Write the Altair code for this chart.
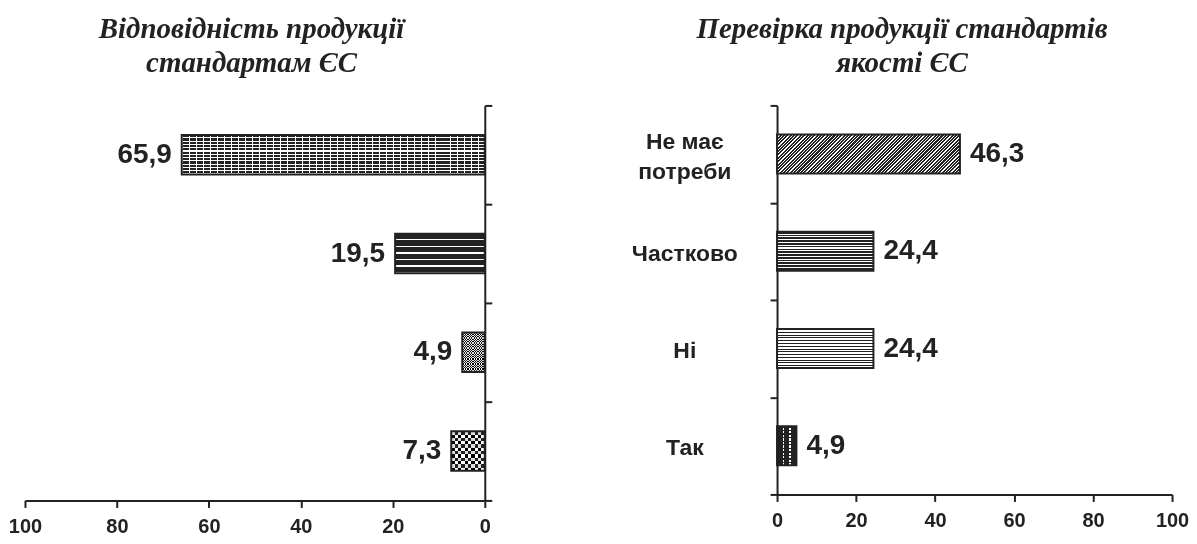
import altair as alt
import pandas as pd

# ---------------- data ----------------
left_keys = ["k1", "k2", "k3", "k4"]          # left panel has no category labels
left_values = [65.9, 19.5, 4.9, 7.3]
right_cats = ["Не має потреби", "Частково", "Ні", "Так"]
right_values = [46.3, 24.4, 24.4, 4.9]
x_ticks = [0, 20, 40, 60, 80, 100]
left_title = ["Відповідність продукції", "стандартам ЄС"]
right_title = ["Перевірка продукції стандартів", "якості ЄС"]


def fmt(v):
    return f"{v:.1f}".replace(".", ",")


left_df = pd.DataFrame({"cat": left_keys, "value": left_values,
                        "label": [fmt(v) for v in left_values]})
right_df = pd.DataFrame({"cat": right_cats, "value": right_values,
                         "label": [fmt(v) for v in right_values]})

# ---------------- style ----------------
INK = "#222222"
WHITE = "#ffffff"
CLEAR_W = "rgba(255,255,255,0)"
CLEAR_K = "rgba(0,0,0,0)"
LW, LH = 461, 396
RW, RH = 396, 390
BAND = 0.4
FONT = "Liberation Sans"


def stripes(n, on, off, frac, direction="h", x2=None, y2=None):
    stops = []
    for k in range(n):
        a, b, c = k / n, (k + frac) / n, (k + 1) / n
        stops += [{"offset": a, "color": on}, {"offset": b, "color": on},
                  {"offset": b, "color": off}, {"offset": c, "color": off}]
    if direction == "h":      # horizontal lines
        vec = (0, 0, 0, 1)
    elif direction == "v":    # vertical lines
        vec = (0, 0, 1, 0)
    else:
        vec = (0, 0, x2, y2)
    return {"gradient": "linear", "x1": vec[0], "y1": vec[1], "x2": vec[2], "y2": vec[3],
            "stops": stops}


def custom(stops_spec, direction="v"):
    stops = []
    for (a, b, col) in stops_spec:
        stops += [{"offset": a, "color": col}, {"offset": b, "color": col}]
    vec = (0, 0, 1, 0) if direction == "v" else (0, 0, 0, 1)
    return {"gradient": "linear", "x1": vec[0], "y1": vec[1], "x2": vec[2], "y2": vec[3],
            "stops": stops}


lbar_h = LH / 4 * BAND
rbar_h = RH / 4 * BAND
lpx = LW / 100.0
rpx = RW / 100.0

# left patterns (top -> bottom)
w1 = left_values[0] * lpx
w3 = left_values[2] * lpx
w4 = left_values[3] * lpx
left_base = [
    stripes(round(lbar_h / 3.3), INK, WHITE, 0.68, "h"),
    stripes(round(lbar_h / 6.6), INK, WHITE, 0.78, "h"),
    stripes(round(lbar_h / 2.4), INK, WHITE, 0.5, "h"),
    stripes(round(lbar_h / 6.6), INK, WHITE, 0.5, "h"),
]
left_over = [
    stripes(round(w1 / 7.0), WHITE, CLEAR_W, 0.14, "v"),
    None, None, None,
]
left_diff = [
    None, None,
    stripes(max(1, round(w3 / 2.4)), WHITE, CLEAR_W, 0.5, "v"),
    stripes(max(1, round(w4 / 6.6)), WHITE, CLEAR_W, 0.5, "v"),
]

# right patterns (top -> bottom)
rw1 = right_values[0] * rpx
ax = 1.2
by = ax * rbar_h / rw1
span = (ax * ax + by * by) * rw1 / ax
right_base = [
    stripes(round(span / 3.4), INK, WHITE, 0.62, "d", ax, by),
    stripes(round(rbar_h / 2.8), INK, WHITE, 0.6, "h"),
    stripes(round(rbar_h / 2.8), INK, WHITE, 0.35, "h"),
    custom([(0, 0.3, INK), (0.3, 0.37, WHITE), (0.37, 0.63, INK),
            (0.63, 0.7, WHITE), (0.7, 1, INK)], "v"),
]
right_over = [
    None, None, None,
    stripes(round(rbar_h / 3.5), INK, CLEAR_K, 0.4, "h"),
]
right_diff = [None, None, None, None]

axis_common = dict(domainColor=INK, domainWidth=2, tickColor=INK, tickWidth=2, tickSize=7,
                   labelFont=FONT, labelFontWeight="bold", labelColor=INK,
                   grid=False, title=None)

title_common = dict(font="Liberation Serif", fontStyle="italic", fontWeight="bold",
                    fontSize=29, lineHeight=34, color=INK, anchor="middle", frame="bounds")


def panel(df, keys, reverse, y_orient, y_labels, base, over, diff, text_align, text_dx,
          width, height, title, title_dx, title_offset):
    x_enc = alt.X("value:Q",
                  scale=alt.Scale(domain=[0, 100], reverse=reverse, nice=False),
                  axis=alt.Axis(values=x_ticks, orient="bottom", labelPadding=9,
                                labelFontSize=20, labelFlush=False, **axis_common))
    y_axis_kw = dict(orient=y_orient, tickBand="extent", **axis_common)
    if y_labels:
        y_axis_kw.update(labelAlign="center", labelBaseline="middle", labelPadding=86,
                         labelLineHeight=31, labelFontSize=23,
                         labelOffset={"condition": {"test": "datum.value == 'Не має потреби'",
                                                    "value": -13}, "value": 2},
                         labelExpr="datum.label == 'Не має потреби' ? ['Не має', 'потреби'] : datum.label")
    else:
        y_axis_kw.update(labels=False)
    y_enc = alt.Y("cat:N", sort=keys,
                  scale=alt.Scale(paddingInner=0, paddingOuter=0),
                  axis=alt.Axis(**y_axis_kw))

    layers = []
    for c, g in zip(keys, base):
        layers.append(alt.Chart(df).transform_filter(alt.datum.cat == c)
                      .mark_bar(fill=g, height={"band": BAND}, strokeWidth=0)
                      .encode(x=x_enc, y=y_enc))
    for c, g in zip(keys, over):
        if g is not None:
            layers.append(alt.Chart(df).transform_filter(alt.datum.cat == c)
                          .mark_bar(fill=g, height={"band": BAND}, strokeWidth=0)
                          .encode(x=x_enc, y=y_enc))
    for c, g in zip(keys, diff):
        if g is not None:
            layers.append(alt.Chart(df).transform_filter(alt.datum.cat == c)
                          .mark_bar(fill=g, height={"band": BAND}, strokeWidth=0,
                                    blend="difference")
                          .encode(x=x_enc, y=y_enc))
    layers.append(alt.Chart(df).mark_bar(fillOpacity=0, stroke=INK, strokeWidth=2,
                                         height={"band": BAND})
                  .encode(x=x_enc, y=y_enc))
    layers.append(alt.Chart(df).mark_text(align=text_align, dx=text_dx, baseline="middle",
                                          font=FONT, fontWeight="bold", fontSize=28,
                                          color=INK)
                  .encode(x=x_enc, y=y_enc, text="label:N"))
    return alt.layer(*layers).properties(
        width=width, height=height,
        title=alt.TitleParams(text=title, dx=title_dx, offset=title_offset, **title_common))


left = panel(left_df, left_keys, True, "right", False, left_base, left_over, left_diff,
             "right", -10, LW, LH, left_title, 1, 27)
right = panel(right_df, right_cats, False, "left", True, right_base, right_over, right_diff,
              "left", 10, RW, RH, right_title, -8, 17)

chart = alt.hconcat(left, right, spacing=138).properties(
    padding={"left": 0, "top": 6, "right": 0, "bottom": 0}
).configure_view(strokeWidth=0, stroke="transparent")

chart.save("out.html", embed_options={"renderer": "svg", "actions": False})
